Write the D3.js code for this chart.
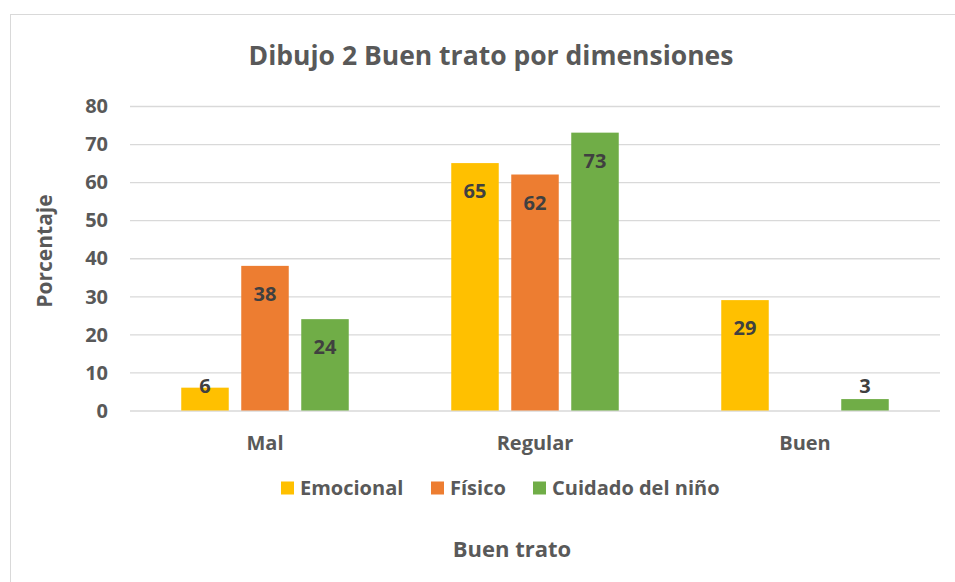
<!DOCTYPE html>
<html>
<head>
<meta charset="utf-8">
<script src="https://cdn.jsdelivr.net/npm/d3@7"></script>
<style>
  body { margin: 0; background: #fff; }
  text { font-family: "Open Sans", sans-serif; font-weight: bold; }
</style>
</head>
<body>
<div id="chart"></div>
<script>
const categories = ["Mal", "Regular", "Buen"];
const series = ["Emocional", "Físico", "Cuidado del niño"];
const emocional = [6, 65, 29];
const fisico = [38, 62, null];
const cuidado = [24, 73, 3];
const yTicks = [0, 10, 20, 30, 40, 50, 60, 70, 80];
const colors = ["#FFC000", "#ED7D31", "#70AD47"];

const values = [emocional, fisico, cuidado];
const width = 955, height = 582;
const margin = { top: 106, right: 15, bottom: 171.5, left: 130 };

let svg = d3.select("#chart").append("svg")
  .attr("width", width)
  .attr("height", height);

// chart frame
svg.append("rect")
  .attr("x", 10.5).attr("y", 14.5)
  .attr("width", 960).attr("height", 600)
  .attr("fill", "#fff")
  .attr("stroke", "#d9d9d9");

svg.append("text")
  .attr("x", 491).attr("y", 65)
  .attr("text-anchor", "middle")
  .attr("fill", "#595959")
  .style("font-size", "26.5px")
  .text("Dibujo 2 Buen trato por dimensiones");

let x0 = d3.scaleBand()
  .domain(categories)
  .range([margin.left, width - margin.right]);

// bars 47.5 wide, 12.5 gap, centred in each band
let x1 = d3.scaleBand()
  .domain(series)
  .range([51.25, x0.bandwidth() - 51.25])
  .paddingInner(0.2083);

let y = d3.scaleLinear()
  .domain([0, 80])
  .range([height - margin.bottom, margin.top]);

// gridlines
svg.append("g")
  .attr("transform", `translate(${margin.left},0)`)
  .call(d3.axisLeft(y).tickValues(yTicks).tickSize(-(width - margin.right - margin.left)).tickFormat(""))
  .call(g => g.select(".domain").remove())
  .call(g => g.selectAll("line").attr("stroke", "#d9d9d9").attr("stroke-width", 1.3));

// y tick labels
svg.append("g")
  .selectAll("text")
  .data(yTicks)
  .enter().append("text")
  .attr("x", 108)
  .attr("y", d => y(d))
  .attr("dy", "0.36em")
  .attr("text-anchor", "end")
  .attr("fill", "#595959")
  .style("font-size", "20px")
  .text(d => d);

// bars
let groups = svg.append("g")
  .selectAll("g")
  .data(categories)
  .enter().append("g")
  .attr("transform", d => `translate(${x0(d)},0)`);

let cells = groups.selectAll("g")
  .data((c, ci) => series.map((s, si) => ({ s, si, v: values[si][ci] })).filter(d => d.v != null))
  .enter().append("g");

cells.append("rect")
  .attr("x", d => x1(d.s))
  .attr("y", d => y(d.v))
  .attr("width", x1.bandwidth())
  .attr("height", d => y(0) - y(d.v))
  .attr("fill", d => colors[d.si]);

cells.append("text")
  .attr("x", d => x1(d.s) + x1.bandwidth() / 2)
  .attr("y", d => Math.min(y(d.v) + 28, y(0) - 25))
  .attr("dy", "0.36em")
  .attr("text-anchor", "middle")
  .attr("fill", "#404040")
  .style("font-size", "20px")
  .text(d => d.v);

// x labels
svg.append("g")
  .selectAll("text")
  .data(categories)
  .enter().append("text")
  .attr("x", d => x0(d) + x0.bandwidth() / 2)
  .attr("y", 450)
  .attr("text-anchor", "middle")
  .attr("fill", "#595959")
  .style("font-size", "20px")
  .text(d => d);

// y axis title
svg.append("text")
  .attr("transform", "translate(52,251) rotate(-90)")
  .attr("text-anchor", "middle")
  .attr("fill", "#595959")
  .style("font-size", "21px")
  .text("Porcentaje");

// legend
const legendX = [281, 431, 533];
let legend = svg.append("g")
  .selectAll("g")
  .data(series)
  .enter().append("g")
  .attr("transform", (d, i) => `translate(${legendX[i]},488)`);

legend.append("rect")
  .attr("x", 0).attr("y", -6.5)
  .attr("width", 13).attr("height", 13)
  .attr("fill", (d, i) => colors[i]);

legend.append("text")
  .attr("x", 19)
  .attr("y", 7)
  .attr("fill", "#595959")
  .style("font-size", "20px")
  .text(d => d);

// x axis title
svg.append("text")
  .attr("x", 512).attr("y", 557)
  .attr("text-anchor", "middle")
  .attr("fill", "#595959")
  .style("font-size", "22px")
  .text("Buen trato");
</script>
</body>
</html>
